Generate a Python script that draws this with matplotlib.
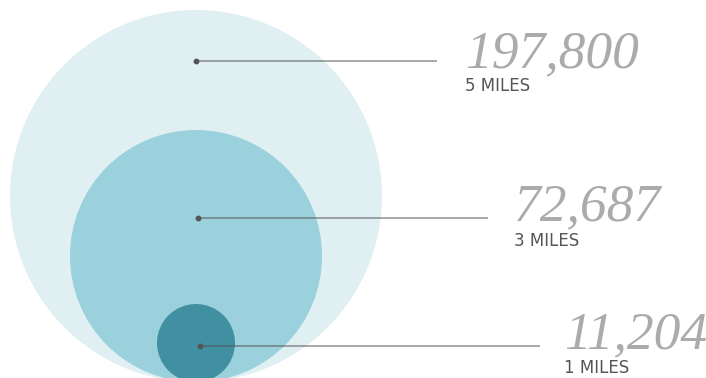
import matplotlib
matplotlib.use("Agg")
import matplotlib.pyplot as plt
from matplotlib.patches import Circle

# Data
values = [197800, 72687, 11204]
miles = [5, 3, 1]
value_labels = ["197,800", "72,687", "11,204"]
mile_labels = [f"{m} MILES" for m in miles]

# Styling
radii = [186, 126, 39]
colors = ["#dfeff2", "#9bd1dc", "#4090a2"]
dot_xy = [(196, 61), (198, 218), (200, 346)]
line_end = [437, 488, 540]
text_x = [465, 514, 564]
num_base = [67, 220, 348]
lab_base = [91, 246, 373]
base_y = 382
cx = 196

fig = plt.figure(figsize=(7.06, 3.78), dpi=100)
ax = fig.add_axes([0, 0, 1, 1])
ax.set_xlim(0, 706)
ax.set_ylim(378, 0)
ax.set_aspect("equal")
ax.axis("off")

for r, c in zip(radii, colors):
    ax.add_patch(Circle((cx, base_y - r), r, facecolor=c, edgecolor="none", zorder=1))

for (dx, dy), le, tx, nb, lb, vl, ml in zip(dot_xy, line_end, text_x, num_base,
                                            lab_base, value_labels, mile_labels):
    ax.plot([dx, le], [dy, dy], color="#555555", alpha=0.55, lw=1.3, zorder=2,
            solid_capstyle="butt")
    ax.plot([dx], [dy], "o", color="#555555", ms=3.2, zorder=3)
    ax.text(tx, nb, vl, fontsize=38.5, family="Liberation Serif", style="italic",
            color="#adaaab", ha="left", va="baseline")
    ax.text(tx, lb, ml, fontsize=12, family="DejaVu Sans",
            color="#555555", ha="left", va="baseline")

fig.savefig("out.png", dpi=100)
